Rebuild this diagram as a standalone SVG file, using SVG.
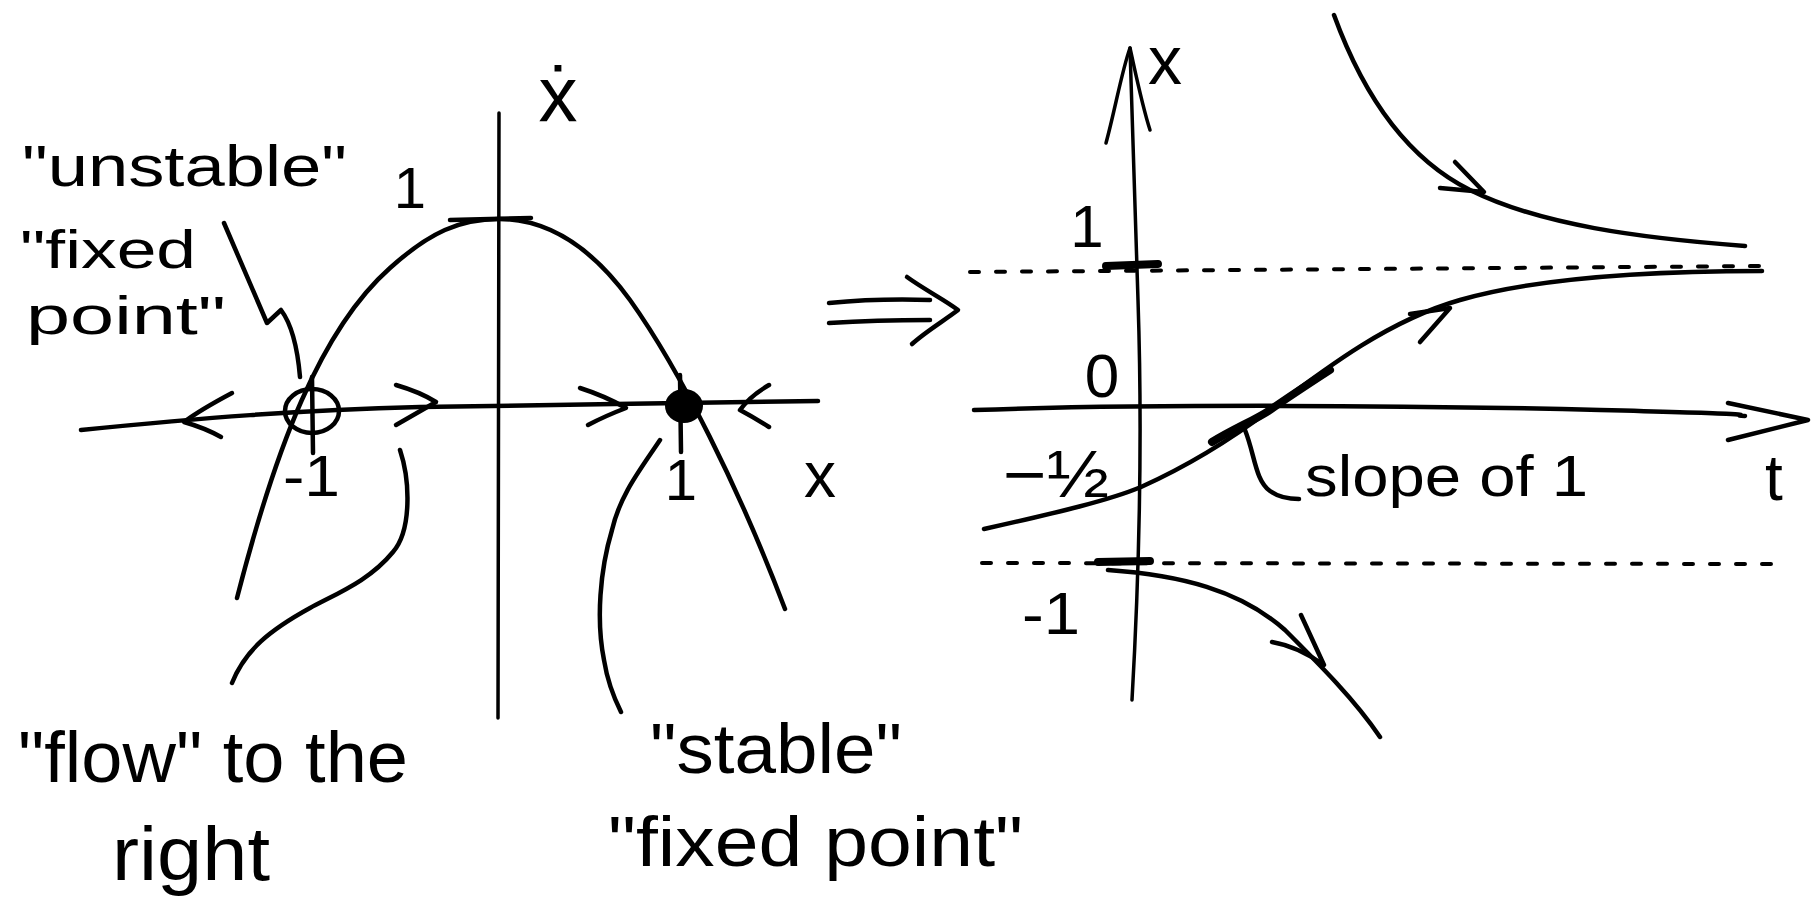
<svg xmlns="http://www.w3.org/2000/svg" width="1811" height="923" viewBox="0 0 1811 923">
<style>
.ln{fill:none;stroke:#000;stroke-width:4.5;stroke-linecap:round;stroke-linejoin:round}
.thin{fill:none;stroke:#000;stroke-width:3.5;stroke-linecap:round;stroke-linejoin:round}
.thick{fill:none;stroke:#000;stroke-width:8;stroke-linecap:round}
.dash{fill:none;stroke:#000;stroke-width:4;stroke-linecap:round;stroke-dasharray:9 17}
.tx{font-family:"Liberation Sans",Arial,sans-serif;fill:#000}
</style>
<rect width="1811" height="923" fill="#fff"/>

<g id="left-plot">
  <path class="ln" d="M81,430 C200,418 300,410 420,407 S700,404 818,401"/>
  <path class="thin" d="M499,113 C500,300 500,500 498,718"/>
  <path class="ln" d="M237,598 C275,450 320,330 390,268 C430,232 460,219 499,219 C545,219 590,245 630,300 C680,370 740,490 785,609"/>
  <path class="ln" d="M450,220 L531,218"/>
  <path class="ln" d="M312,377 L313,453"/>
  <path class="ln" d="M680,375 L681,452"/>
  <ellipse cx="312" cy="411" rx="27" ry="22" class="ln"/>
  <ellipse cx="684" cy="406" rx="19" ry="17" fill="#000"/>
  <path class="ln" d="M232,393 Q200,410 184,422 Q205,428 221,437"/>
  <path class="ln" d="M396,385 Q420,392 436,402 Q415,414 396,425"/>
  <path class="ln" d="M580,388 Q605,396 626,408 Q605,416 588,425"/>
  <path class="ln" d="M769,385 Q750,396 740,410 Q755,418 769,427"/>
</g>

<g id="left-labels">
  <text class="tx" x="558" y="122" font-size="78" text-anchor="middle">ẋ</text>
  <text class="tx" x="410" y="208" font-size="58" text-anchor="middle">1</text>
  <text class="tx" x="283" y="496" font-size="58" textLength="57" lengthAdjust="spacingAndGlyphs">-1</text>
  <text class="tx" x="681" y="500" font-size="58" text-anchor="middle">1</text>
  <text class="tx" x="820" y="497" font-size="64" text-anchor="middle">x</text>
</g>

<g id="unstable-note">
  <text class="tx" x="22" y="186" font-size="58" textLength="325" lengthAdjust="spacingAndGlyphs">"unstable"</text>
  <text class="tx" x="20" y="268" font-size="54" textLength="176" lengthAdjust="spacingAndGlyphs">"fixed</text>
  <text class="tx" x="26" y="334" font-size="54" textLength="200" lengthAdjust="spacingAndGlyphs">point"</text>
</g>

<g id="flow-note">
  <text class="tx" x="18" y="782" font-size="72" textLength="390" lengthAdjust="spacingAndGlyphs">"flow" to the</text>
  <text class="tx" x="112" y="880" font-size="76" textLength="158" lengthAdjust="spacingAndGlyphs">right</text>
</g>

<g id="stable-note">
  <text class="tx" x="650" y="773" font-size="70" textLength="252" lengthAdjust="spacingAndGlyphs">"stable"</text>
  <text class="tx" x="608" y="866" font-size="70" textLength="415" lengthAdjust="spacingAndGlyphs">"fixed point"</text>
</g>

<g id="implies">
  <path class="ln" d="M829,303 C860,300 900,299 930,300"/>
  <path class="ln" d="M829,323 C860,321 900,320 930,320"/>
  <path class="ln" d="M907,277 C925,290 945,300 958,310 C945,320 925,332 912,344"/>
</g>

<g id="right-plot">
  <path class="thin" d="M1132,700 C1140,560 1142,420 1138,300 C1135,200 1132,120 1130,48"/>
  <path class="thin" d="M1106,143 C1115,110 1122,70 1130,48 C1136,75 1142,105 1150,130"/>
  <path class="ln" d="M974,410 C1150,404 1400,405 1600,410 S1720,415 1745,416"/>
  <path class="ln" d="M1728,403 L1808,420 L1728,440"/>
  <path class="dash" d="M970,272 L1766,266"/>
  <path class="dash" d="M982,563 L1780,564"/>
  <path class="thick" d="M1106,266 L1158,264"/>
  <path class="thick" d="M1098,562 L1150,561"/>
  <text class="tx" x="1148" y="84" font-size="68">x</text>
  <text class="tx" x="1087" y="247" font-size="60" text-anchor="middle">1</text>
  <text class="tx" x="1102" y="397" font-size="62" text-anchor="middle">0</text>
  <text class="tx" x="1003" y="497" font-size="66" textLength="106" lengthAdjust="spacingAndGlyphs">−½</text>
  <text class="tx" x="1022" y="634" font-size="60" textLength="58" lengthAdjust="spacingAndGlyphs">-1</text>
  <text class="tx" x="1774" y="500" font-size="64" text-anchor="middle">t</text>
</g>

<g id="trajectories">
  <path class="ln" d="M1334,15 C1365,100 1410,160 1470,190 C1540,225 1640,238 1745,246"/>
  <path class="ln" d="M1455,162 L1484,192 L1440,188"/>
  <path class="ln" d="M984,529 C1060,512 1110,500 1141,487 C1190,465 1230,440 1270,410 C1330,365 1390,320 1460,300 C1540,277 1650,271 1762,271"/>
  <path class="thick" d="M1212,442 C1235,428 1255,420 1270,410 C1290,396 1310,383 1330,370"/>
  <path class="ln" d="M1410,314 L1450,308 L1420,342"/>
  <path class="ln" d="M1108,570 C1180,575 1240,590 1285,630 C1320,665 1355,700 1380,737"/>
  <path class="ln" d="M1272,642 C1290,645 1310,655 1324,665 L1301,615"/>
</g>

<g id="slope-note">
  <text class="tx" x="1305" y="496" font-size="58" textLength="283" lengthAdjust="spacingAndGlyphs">slope of 1</text>
</g>

<g id="connectors">
  <path class="ln" d="M224,223 L267,323 L281,310 Q296,330 300,377"/>
  <path class="ln" d="M400,450 C410,480 412,530 393,552 C370,580 340,592 310,608 C270,630 245,650 232,683"/>
  <path class="ln" d="M660,440 C640,470 620,495 612,530 C600,570 596,620 604,660 C608,685 615,700 621,712"/>
  <path class="ln" d="M1245,430 C1255,455 1255,480 1270,491 C1280,498 1290,499 1299,499"/>
</g>
</svg>
